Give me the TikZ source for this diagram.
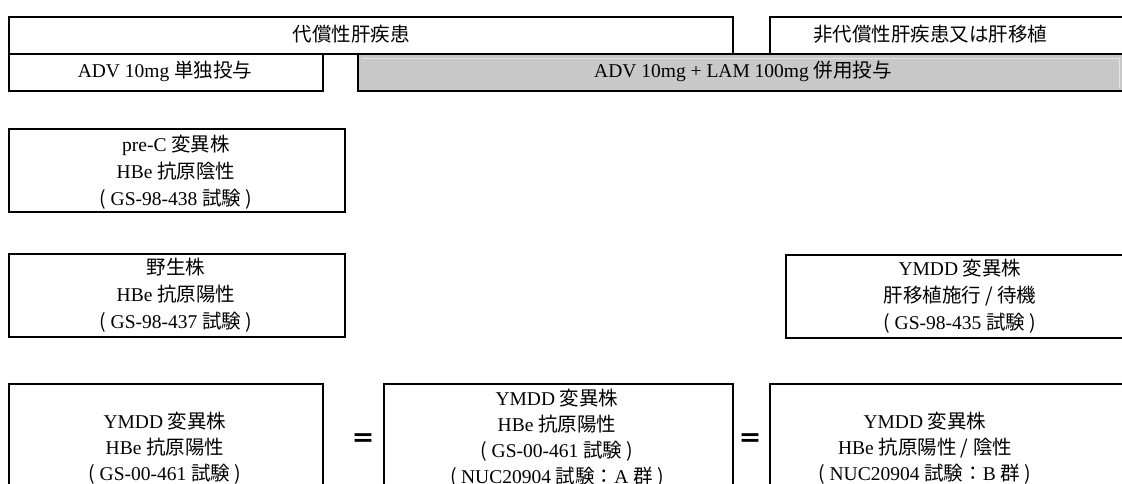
\documentclass[tikz,border=0pt]{standalone}
\usepackage{fontspec}
\setmainfont{Liberation Serif}
\newfontfamily\jp{Noto Sans CJK JP}
\newcommand{\J}[1]{{\jp #1}}
\begin{document}
\begin{tikzpicture}[x=1pt,y=-1pt,
  box/.style={draw=black, line width=2pt, inner sep=0pt, anchor=north west},
  graybox/.style={box, fill=boxgray},
  txt/.style={align=center, inner sep=0pt, font=\fontsize{19.5}{27}\selectfont},
  txtb/.style={align=center, inner sep=0pt, font=\fontsize{19.5}{26}\selectfont},
  eqsign/.style={inner sep=0pt, font=\jp\bfseries\fontsize{24}{24}\selectfont},
]
\definecolor{boxgray}{HTML}{C8C8C8}
\definecolor{bevel}{HTML}{E4E4E4}
\useasboundingbox (0,0) rectangle (1122,484);
\begin{scope}
\clip (0,0) rectangle (1122,484);
% header row
\node[box, minimum width=724, minimum height=37] (A) at (8,16) {};
\node[box, minimum width=380, minimum height=37] (B) at (769,16) {};
\node[box, minimum width=314, minimum height=37] (C) at (8,53) {};
\node[graybox, minimum width=790, minimum height=37] (D) at (357,53) {};
\draw[bevel, line width=0.8pt] (362,58) -- (1119,58) -- (1119,88);
\node[txt] (tA) at (351,34.5) {\J{代償性肝疾患}};
\node[txt] (tB) at (930,34.5) {\J{非代償性肝疾患又は肝移植}};
\node[txt] (tC) at (165,71.5) {ADV 10mg \J{単独投与}};
\node[txt] (tD) at (743,71.5) {ADV 10mg + LAM 100mg \J{併用投与}};
% row 3
\node[box, minimum width=336, minimum height=83] (P) at (8,128) {};
\node[txt] (tP) at (176,172) {pre-C \J{変異株}\\HBe \J{抗原陰性}\\\J{( }GS-98-438 \J{試験 )}};
% row 4
\node[box, minimum width=336, minimum height=83] (W) at (8,253) {};
\node[txt] (tW) at (176,295.5) {\J{野生株}\\HBe \J{抗原陽性}\\\J{( }GS-98-437 \J{試験 )}};
\node[box, minimum width=360, minimum height=83] (T) at (785,254) {};
\node[txt] (tT) at (960,296.5) {YMDD \J{変異株}\\\J{肝移植施行 / 待機}\\\J{( }GS-98-435 \J{試験 )}};
% bottom row
\node[box, minimum width=314, minimum height=140] (E) at (8,383) {};
\node[txtb] (tE) at (165,448) {YMDD \J{変異株}\\HBe \J{抗原陽性}\\\J{( }GS-00-461 \J{試験 )}};
\node[box, minimum width=349, minimum height=140] (F) at (383,383) {};
\node[txtb] (tF) at (557,438) {YMDD \J{変異株}\\HBe \J{抗原陽性}\\\J{( }GS-00-461 \J{試験 )}\\\J{( }NUC20904 \J{試験：}A \J{群 )}};
\node[box, minimum width=380, minimum height=140] (G) at (769,383) {};
\node[txtb] (tG) at (925,448) {YMDD \J{変異株}\\HBe \J{抗原陽性 / 陰性}\\\J{( }NUC20904 \J{試験：}B \J{群 )}};
\node[eqsign] (eq1) at (363,441) {＝};
\node[eqsign] (eq2) at (750,441) {＝};
\end{scope}
\end{tikzpicture}
\end{document}
